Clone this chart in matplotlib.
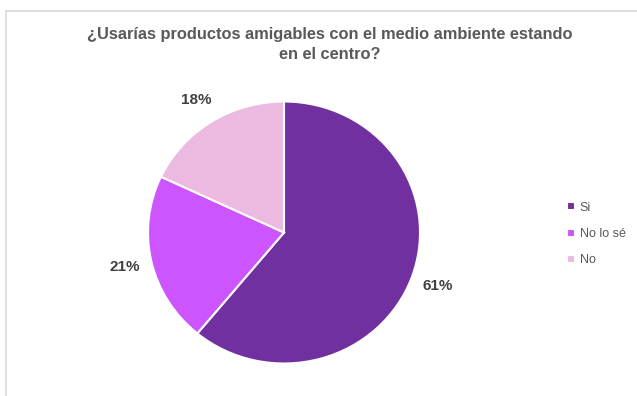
import matplotlib
matplotlib.use("Agg")
from matplotlib import pyplot as plt
from matplotlib.patches import Rectangle
import numpy as np

plt.rcParams['font.family'] = ['Liberation Sans', 'DejaVu Sans']

#Chart data
categories = ['Si', 'No lo sé', 'No']
shares = [61, 21, 18]
colors = ['#7030A0', '#CC55FF', '#ECBAE0']
title = '¿Usarías productos amigables con el medio ambiente estando\nen el centro?'

W, H = 637, 396
fig = plt.figure(figsize=[W / 100, H / 100], dpi=100)

#Light frame of the chart area (runs off the right and bottom edges)
fig.patches.append(Rectangle((6 / W, -0.05), 1.2, 1 - 11 / H + 0.05,
                             transform=fig.transFigure, fill=False,
                             edgecolor='#D9D9D9', lw=1.2))

#Pie axes: centre at (284, 232.5) px, slightly wider than tall
cx, cy, rx, ry = 284, 232.5, 136, 131
ax = fig.add_axes([(cx - rx) / W, (H - cy - ry) / H, 2 * rx / W, 2 * ry / H])
wedges, texts, autotexts = ax.pie(
    shares, colors=colors, startangle=90, counterclock=False,
    autopct='%d%%', pctdistance=1.2,
    wedgeprops=dict(edgecolor='white', linewidth=1.5),
    textprops=dict(fontsize=11, fontweight='bold', color='#404040'))
ax.set_aspect('auto')
ax.set_xlim(-1, 1)
ax.set_ylim(-1, 1)

fig.text(330 / W, 1 - 44.5 / H, title, ha='center', va='center',
         fontsize=11.8, fontweight='bold', color='#595959', linespacing=1.4)

fig.legend(wedges, categories, loc='center left',
           bbox_to_anchor=(556 / W, 1 - 234 / H), frameon=False,
           handlelength=0.6, handleheight=0.6, handletextpad=0.4,
           labelspacing=1.15, fontsize=9, labelcolor='#595959')

fig.savefig('out.png', dpi=100)
